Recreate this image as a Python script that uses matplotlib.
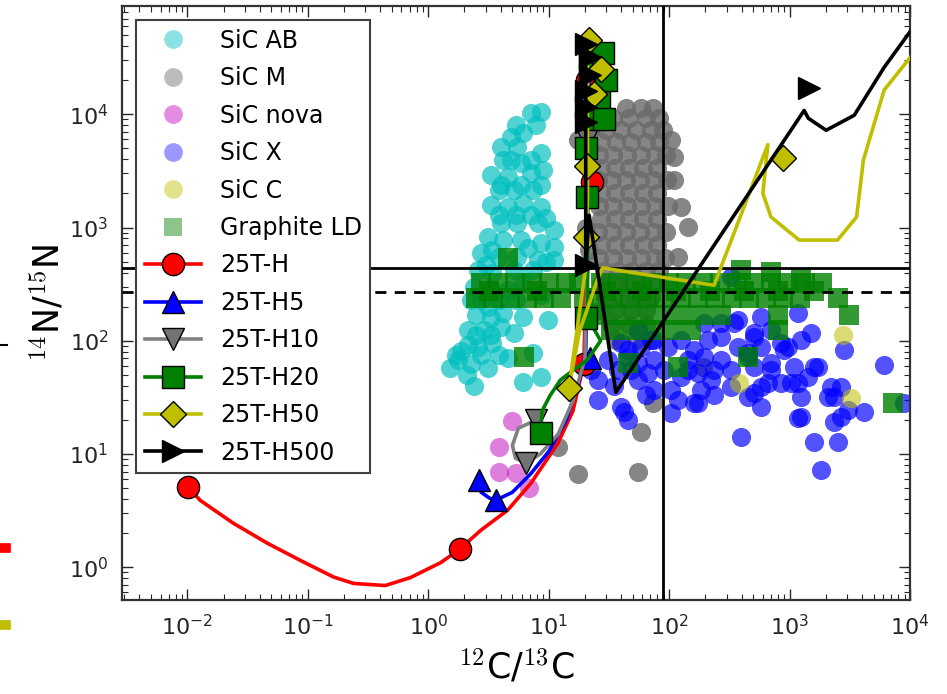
import numpy as np
import matplotlib
matplotlib.use("Agg")
from matplotlib import pyplot as plt
from matplotlib.lines import Line2D

# ---- presolar grain data (12C/13C, 14N/15N) ----
sic_ab = [(7.1, 10200), (8.6, 10400), (4.9, 6270), (6.1, 6800), (4.0, 5110), (5.5, 5110),
          (8.6, 4530), (4.2, 3930), (5.86, 3690), (3.3, 2890), (4.6, 2780), (7.1, 3010),
          (9.0, 3200), (3.9, 2130), (5.2, 2130), (7.4, 2130), (3.3, 1570), (4.6, 1510),
          (6.1, 1640), (8.6, 1510), (4.0, 1090), (5.5, 1090), (8.1, 1090), (11.0, 945),
          (3.15, 820), (4.2, 771), (5.86, 771), (8.6, 726), (11.0, 670), (2.73, 593),
          (3.9, 546), (5.5, 546), (8.1, 514), (11.0, 514), (2.6, 419), (3.4, 394),
          (5.2, 419), (7.4, 419), (2.4, 297), (3.3, 279), (4.6, 279), (2.25, 228),
          (3.15, 198), (4.2, 175), (6.1, 161), (9.8, 152), (2.14, 124), (2.9, 124),
          (4.0, 132), (5.2, 116), (1.86, 82), (2.6, 88), (3.4, 95), (4.6, 71),
          (1.53, 58), (2.25, 63), (3.15, 58), (2.4, 40), (6.1, 43), (8.6, 48), (7.4, 78),
          (5.4, 8000), (7.8, 8000), (4.84, 3930), (7.1, 3930), (4.0, 2360), (5.86, 2360),
          (8.6, 2360), (3.9, 1280), (5.33, 1280), (7.1, 1280), (9.46, 1210), (3.4, 630),
          (6.7, 656), (9.46, 493), (3.0, 464), (6.1, 322), (8.6, 252), (2.73, 228),
          (3.9, 228), (5.33, 228), (2.48, 168), (3.3, 158), (2.48, 112), (3.3, 112),
          (2.14, 91), (2.73, 74.5), (3.9, 74.5), (1.77, 67), (2.1, 49.6), (1.69, 74.5)]

sic_m = [(43.8, 11300), (58.3, 11300), (73.3, 11300),
         (34.1, 9220), (46.3, 9220), (64.2, 9220), (82.3, 9220),
         (29.8, 7220), (39.7, 7220), (53.0, 7220), (70.6, 7220), (88.8, 7220),
         (27.1, 5660), (36.1, 5660), (48.1, 5660), (64.2, 5660), (82.3, 5660),
         (26.1, 4350), (34.1, 4350), (44.6, 4350), (58.3, 4350), (76.2, 4350), (94, 4350),
         (27.1, 3340), (35.4, 3340), (46.3, 3340), (60.6, 3340), (79.2, 3340),
         (25.6, 2610), (33.5, 2610), (43.8, 2610), (57.2, 2610), (74.8, 2610), (95.9, 2610),
         (27.1, 2010), (35.4, 2010), (46.3, 2010), (60.6, 2010), (79.2, 2010),
         (26.1, 1540), (34.1, 1540), (44.6, 1540), (58.3, 1540), (76.2, 1540), (97.7, 1540),
         (27.1, 1180), (35.4, 1180), (46.3, 1180), (60.6, 1180), (79.2, 1180),
         (25.6, 908), (33.5, 908), (43.8, 908), (57.2, 908), (74.8, 908), (94, 908),
         (27.1, 697), (35.4, 697), (46.3, 697), (60.6, 697), (79.2, 697),
         (26.1, 535), (34.1, 535), (44.6, 535), (58.3, 535), (76.2, 535), (92.2, 535),
         (28.7, 411), (37.5, 411), (49.1, 411), (64.2, 411), (82.3, 411),
         (27.1, 315), (35.4, 315), (46.3, 315), (60.6, 315), (79.2, 315),
         (29.8, 242), (39.7, 242), (53.0, 242), (70.6, 242),
         (27.1, 186), (36.1, 186), (48.1, 186), (64.2, 186),
         (32.8, 137), (46.3, 137), (64.2, 137), (36.1, 101), (53.0, 101),
         (17.5, 5890), (19.6, 4810), (22.4, 7520), (104, 5890), (110, 4170), (110, 2610),
         (125, 1510), (143, 1005), (118, 546), (20.3, 985), (21.5, 630),
         (17.5, 6.6), (55.1, 6.9), (58.3, 15.6), (73.3, 28.1), (191, 58.3), (11.9, 11.5)]

sic_nova = [(5.0, 19.5), (3.85, 11.5), (3.85, 6.9), (5.33, 6.8), (6.84, 5.0)]

sic_x = [(327, 364), (373, 152), (580, 161), (1180, 175), (1510, 116), (1245, 101),
         (972, 87.7), (580, 87.7), (452, 71.5), (270, 107), (210, 101), (161, 82.4),
         (125, 101), (97.7, 87.7), (74.8, 101), (58.3, 87.7), (45.4, 82.4), (48.1, 54.9),
         (66.6, 51.6), (90.5, 54.9), (125, 47.6), (173, 51.6), (236, 54.9), (327, 54.9),
         (507, 58.3), (702, 63.3), (1090, 58.3), (1430, 47.6), (1730, 58.3), (2210, 38.8),
         (2340, 31.7), (2680, 38.8), (1180, 42.2), (850, 42.2), (580, 38.8), (452, 31.7),
         (580, 25.9), (1245, 31.7), (173, 28.1), (104, 22.9), (42.1, 23.4), (45.4, 19.9),
         (1180, 20.7), (2340, 19.1), (3060, 24.3), (4160, 23.4), (6100, 60.8), (2840, 82.4),
         (1600, 12.7), (2530, 12.7), (1830, 7.19), (395, 14.1), (55.1, 63.3), (74.8, 67.3),
         (143, 67.3), (195, 71.5), (270, 67.3), (373, 87.7), (507, 107), (702, 124),
         (850, 95), (195, 143), (270, 143), (899, 82.4), (702, 54.9), (1600, 58.3),
         (1030, 42.2), (662, 42.2), (507, 34.4), (2090, 31.7), (2680, 21.1), (1245, 21.1),
         (8950, 28.1), (25.6, 44.8), (22.4, 54.9), (37.5, 54.9), (45.4, 71.5), (39.7, 95),
         (55.1, 124), (70.6, 101), (25.6, 29.8), (39.7, 25.9), (55.1, 44.8), (74.8, 36.6),
         (104, 36.6), (161, 28.1), (143, 54.9), (222, 44.8), (327, 38.8), (346, 143),
         (507, 116), (452, 77.6), (184, 36.6), (34.8, 40), (64.2, 33), (236, 33),
         (118, 29.8), (31, 67.3)]

sic_c = [(2790, 112), (3250, 31), (380, 42.2)]

graphite_ld = [(2.73, 322), (3.78, 322), (5.23, 322), (7.24, 322), (10, 322), (13.9, 322),
               (17.8, 322), (27.1, 322), (37.5, 322), (52, 322), (72, 322), (99.6, 322),
               (138, 322), (191, 322), (264, 322), (366, 322), (507, 322), (702, 322),
               (972, 322), (1350, 322), (1860, 322),
               (2.48, 237), (3.43, 237), (4.75, 237), (6.58, 237), (9.1, 237), (12.6, 237),
               (19.6, 237), (24.6, 237), (34.1, 237), (47.2, 237), (65.3, 237), (90.5, 237),
               (125, 237), (173, 237), (240, 237), (333, 237), (460, 237), (638, 237),
               (883, 237), (1220, 237), (2530, 237),
               (3.2, 275), (8.0, 275), (30, 275), (60, 275), (115, 275), (220, 275),
               (420, 275), (800, 275), (1600, 275),
               (27.1, 168), (39.7, 168), (58.3, 168), (85.5, 168), (125, 168), (184, 168),
               (270, 168), (802, 168), (3120, 168),
               (32.8, 124), (48.1, 124), (70.6, 124), (104, 124), (152, 124), (802, 124),
               (4.57, 535), (6.21, 71.5), (118, 58.3), (452, 71.5), (45.4, 63.3),
               (7240, 28.1), (395, 419), (702, 403), (1245, 356)]

# ---- stellar model tracks ----
h_x = [0.0102, 0.0128, 0.0241, 0.0463, 0.0869, 0.164, 0.24, 0.44, 0.71, 1.27, 1.82,
       2.73, 4.57, 7.1, 11.9, 15.9, 19.6, 20.3, 20.5, 20.5]
h_y = [5.1, 3.9, 2.45, 1.63, 1.15, 0.82, 0.72, 0.69, 0.81, 1.1, 1.44,
       2.12, 3.2, 5.5, 12.4, 24, 63, 300, 3000, 40000]
h_mx = [0.0102, 1.82, 19.6, 23, 21]
h_my = [5.1, 1.44, 63, 2500, 20000]

h5_x = [2.62, 2.75, 3.2, 3.63, 5.0, 7.1, 10, 14, 18, 20.3, 21, 21, 22]
h5_y = [5.9, 4.6, 4.1, 3.9, 4.6, 6.7, 10.5, 20, 45, 80, 400, 5000, 40000]
h5_mx = [2.62, 3.63, 22, 25]
h5_my = [5.9, 3.9, 71, 16000]

h10_x = [7.8, 5.6, 5.0, 5.3, 6.45, 8.5, 12, 16, 20, 21, 21]
h10_y = [19.9, 16.9, 11.9, 9.2, 8.3, 10, 15, 30, 70, 500, 40000]
h10_mx = [7.8, 6.45, 21, 24]
h10_my = [19.9, 8.3, 6000, 25000]

h20_x = [8.6, 8.8, 10.3, 12.5, 16, 21, 27, 21, 21, 21]
h20_y = [15.2, 24, 33, 45, 55, 68, 100, 160, 2000, 40000]
h20_mx = [8.6, 20.3, 21, 20.5, 24, 26, 22, 29, 30, 28]
h20_my = [15.2, 158, 1850, 5000, 9000, 14000, 30000, 9000, 20000, 35000]

h50_x = [21, 21, 20.3, 14.7, 18, 25, 28, 236, 660, 600, 700, 1200, 2500, 3600, 4100,
         6100, 10000]
h50_y = [40000, 2000, 440, 38, 120, 330, 440, 309, 5400, 2000, 1240, 775, 775, 1240,
         3950, 16400, 31600]
h50_mx = [14.7, 880, 20.5, 21, 21.5, 24, 27]
h50_my = [38, 4100, 820, 3500, 45000, 15000, 25000]

h500_x = [20.3, 20.3, 21.7, 36.1, 1320, 1430, 2010, 3440, 6100, 10200]
h500_y = [45000, 464, 1280, 35.1, 10800, 9220, 7220, 9800, 26000, 55200]
h500_mx = [20.3, 1450, 20.3, 20.3, 20.3, 22, 22, 20.3]
h500_my = [464, 17000, 8500, 11500, 16000, 22000, 32000, 42000]

solar_c = 89
solar_n = 441
air_n = 272

fig = plt.figure(figsize=(9.47, 6.94), dpi=100)
ax = fig.add_axes([0.129, 0.135, 0.832, 0.856])
ax.set_xscale('log')
ax.set_yscale('log')

# (points, label, marker, colour, alpha in plot, alpha of legend swatch)
grains = [
    (sic_ab, 'SiC AB', 'o', (0.0, 0.75, 0.75), 0.68, 0.45),
    (sic_m, 'SiC M', 'o', (0.42, 0.42, 0.42), 0.82, 0.45),
    (sic_nova, 'SiC nova', 'o', (0.75, 0.0, 0.75), 0.5, 0.45),
    (sic_x, 'SiC X', 'o', (0.0, 0.0, 1.0), 0.68, 0.4),
    (sic_c, 'SiC C', 'o', (0.75, 0.75, 0.0), 0.55, 0.45),
    (graphite_ld, 'Graphite LD', 's', (0.0, 0.5, 0.0), 0.8, 0.45),
]
handles = []
for pts, lab, mk, col, a, la in grains:
    arr = np.array(pts)
    ax.scatter(arr[:, 0], arr[:, 1], s=190, marker=mk, color=col, alpha=a,
               linewidths=0, zorder=2)
    handles.append(Line2D([], [], ls='none', marker=mk, markersize=13.5, color=col,
                          alpha=la, markeredgewidth=0, label=lab))

ax.axvline(solar_c, color='k', lw=2, zorder=3)
ax.axhline(solar_n, color='k', lw=2, zorder=3)
ax.axhline(air_n, color='k', lw=2, ls=(0, (4, 3)), zorder=3)

models = [
    (h_x, h_y, h_mx, h_my, '25T-H', 'r', 'o', 'r'),
    (h5_x, h5_y, h5_mx, h5_my, '25T-H5', 'b', '^', 'b'),
    (h10_x, h10_y, h10_mx, h10_my, '25T-H10', '0.5', 'v', '0.45'),
    (h20_x, h20_y, h20_mx, h20_my, '25T-H20', 'g', 's', 'g'),
    (h50_x, h50_y, h50_mx, h50_my, '25T-H50', 'y', 'D', 'y'),
    (h500_x, h500_y, h500_mx, h500_my, '25T-H500', 'k', '>', 'k'),
]
z = 4
for lx, ly, mx, my, lab, col, mk, fc in models:
    ax.plot(lx, ly, color=col, lw=2.6, zorder=z)
    ms = 13 if mk == 'D' else 16
    ax.plot(mx, my, ls='none', marker=mk, markersize=ms, markerfacecolor=fc,
            markeredgecolor='k', markeredgewidth=1, zorder=z + 0.5)
    handles.append(Line2D([], [], color=col, lw=2.6, marker=mk, markersize=ms,
                          markerfacecolor=fc, markeredgecolor='k', label=lab))
    z += 1

ax.set_xlim(0.00288, 1e4)
ax.set_ylim(0.511, 8.99e4)

ax.tick_params(which='both', direction='in', top=True, right=True, labelsize=16,
               colors='0.15')
ax.tick_params(which='major', length=8, width=1, pad=10)
ax.tick_params(which='minor', length=4, width=0.8)
for sp in ax.spines.values():
    sp.set_linewidth(1.6)
    sp.set_color('0.2')

ax.set_xlabel(r'$^{12}$C/$^{13}$C', fontsize=25, math_fontfamily='cm', labelpad=6)
ax.set_ylabel(r'$^{14}$N/$^{15}$N', fontsize=25, math_fontfamily='cm', labelpad=2)

leg = ax.legend(handles=handles, loc='upper left', fontsize=17, fancybox=False,
                edgecolor='0.25', framealpha=1, borderaxespad=0.6, labelspacing=0.57,
                handlelength=2.4, handletextpad=0.8, borderpad=0.35)
leg.get_frame().set_linewidth(1.5)
leg.set_zorder(20)

# slivers of a neighbouring panel visible at the left edge of the crop
fig.add_artist(Line2D([0, 0.007], [0.503, 0.503], transform=fig.transFigure, color='k', lw=1.5))
fig.add_artist(Line2D([0, 0.006], [0.210, 0.210], transform=fig.transFigure, color='r', lw=7))
fig.add_artist(Line2D([0, 0.006], [0.099, 0.099], transform=fig.transFigure, color='y', lw=7))

fig.savefig('out.png', dpi=100)
